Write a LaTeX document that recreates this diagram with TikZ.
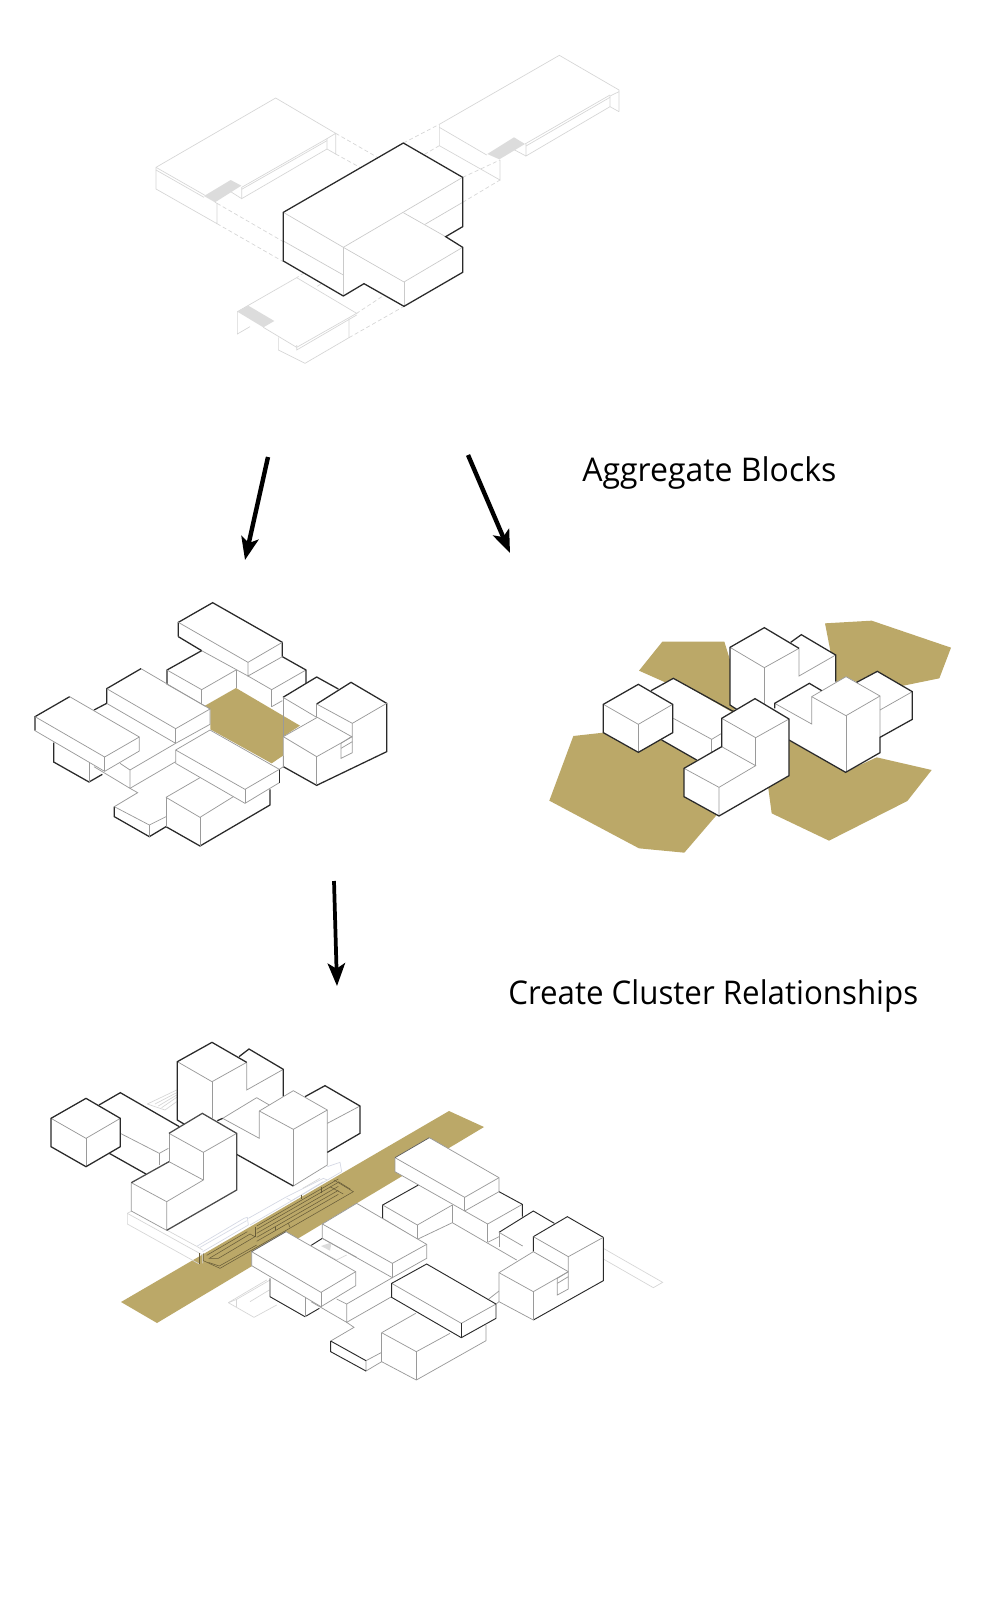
\documentclass[tikz,border=0pt]{standalone}
\usepackage{fontspec}
\setmainfont{Open Sans}
\usetikzlibrary{arrows.meta}
\definecolor{gold}{HTML}{BBA868}
\definecolor{ink}{HTML}{2A2A2A}
\definecolor{thin}{HTML}{9A9A9A}
\definecolor{ghost}{HTML}{D6D6D6}
\definecolor{ghostblue}{HTML}{D4D8E4}
\definecolor{stair}{HTML}{DCDCDC}
\tikzset{
  blk/.style={draw=ink,line width=.95pt,line join=miter},
  thn/.style={draw=thin,line width=.55pt,line join=miter},
  lgt/.style={draw=ghost!80!thin,line width=.5pt},
  mid/.style={draw=ink!75,line width=.55pt},
  gho/.style={draw=ghost,line width=.5pt,line join=miter},
  gbl/.style={draw=ghostblue,line width=.5pt},
  dsh/.style={draw=ghost,line width=.5pt,densely dashed},
  band/.style={draw=black!45!gold,line width=.4pt},
  wf/.style={fill=white,draw=none},
  bigarrow/.style={draw=black,line width=3.3pt,-{Stealth[length=17pt,width=13pt,inset=4pt]}},
  lab/.style={font=\fontsize{24.5}{28}\selectfont,text=black,inner sep=0pt,anchor=base west},
  zoomframe/.style={x=.25pt,y=-.25pt}
}
\begin{document}
\begin{tikzpicture}[x=.75pt,y=-.75pt]
\useasboundingbox (0,0) rectangle (991,1598);
\fill[white] (0,0) rectangle (991,1598);
%% ---------- Panel 1 ----------
\begin{scope}[shift={(140,40)},zoomframe]
 % left ghost building
 \draw[gho] (48,382)--(407,174)--(587,280)--(587,342)--(561,327)--(561,296)--(587,280);
 \draw[gho] (561,296)--(305,442)--(305,476)--(561,327);
 \draw[gho] (561,302)--(305,448);
 \draw[gho] (48,382)--(48,447)--(231,551)--(231,490)--(225,487);
 \draw[gho] (48,382)--(195,466);\draw[gho] (48,390)--(192,472);
 \draw[gho] (272,455)--(305,476);
 \fill[stair] (192,468)--(272,420)--(304,437)--(225,487)--cycle;
 % right ghost building
 \draw[gho] (898,253)--(1258,46)--(1437,150)--(1437,215);
 \draw[gho] (1437,155)--(1410,168)--(1410,200)--(1437,215);
 \draw[gho] (898,253)--(898,317)--(1080,420)--(1080,360);
 \draw[gho] (898,262)--(1040,345);
 \draw[gho] (1155,312)--(1410,165);\draw[gho] (1158,318)--(1410,172);
 \draw[gho] (1158,312)--(1158,348)--(1410,200);
 \draw[gho] (1122,329)--(1158,348);
 \fill[stair] (1042,342)--(1122,292)--(1155,312)--(1078,358)--cycle;
 % bottom ghost building
 \draw[gho] (292,815)--(470,713)--(650,820)--(470,922)--(370,862);
 \draw[gho] (292,815)--(292,882)--(330,860);
 \draw[gho] (415,892)--(415,930)--(495,970)--(627,893)--(627,835);
 \draw[gho] (470,915)--(470,930)--(650,825);
 \fill[stair] (325,797)--(403,843)--(370,862)--(292,815)--cycle;
 % dashed projection lines
 \draw[dsh] (587,280)--(735,365);
 \draw[dsh] (587,342)--(665,385);
 \draw[dsh] (231,490)--(430,605);
 \draw[dsh] (231,551)--(430,665);
 \draw[dsh] (790,309)--(898,253);
 \draw[dsh] (898,317)--(790,380);
 \draw[dsh] (968,412)--(1080,360);
 \draw[dsh] (968,487)--(1080,420);
 \draw[dsh] (610,622)--(470,713);
 \draw[dsh] (610,690)--(530,740);
 \draw[dsh] (792,726)--(650,820);
 \draw[dsh] (627,893)--(792,799);
 % central block
 \path[wf] (430,517)--(790,309)--(968,412)--(968,560)--(917,590)--(968,622)--(968,697)--(792,799)--(672,731)--(610,768)--(430,663)--cycle;
 \draw[lgt] (430,517)--(610,622)--(792,726)--(968,622);
 \draw[lgt] (610,622)--(968,412);
 \draw[lgt] (790,518)--(917,590);
 \draw[lgt] (430,603)--(610,705);
 \draw[lgt] (610,622)--(610,768);
 \draw[lgt] (792,726)--(792,799);
 \draw[lgt] (855,553)--(968,487);
 \draw[blk] (430,517)--(790,309)--(968,412)--(968,560)--(917,590)--(968,622)--(968,697)--(792,799)--(672,731)--(610,768)--(430,663)--cycle;
\end{scope}
%% ---------- Arrows ----------
\coordinate (a1s) at (268,457);\coordinate (a1e) at (245,560);
\coordinate (a2s) at (468,455);\coordinate (a2e) at (510,553);
\coordinate (a3s) at (334,881);\coordinate (a3e) at (337,986);
\draw[bigarrow] (a1s)--(a1e);
\draw[bigarrow] (a2s)--(a2e);
\draw[bigarrow,line width=2.8pt] (a3s)--(a3e);
\node[lab] (t1) at (582,481) {\scalebox{0.98}[1]{Aggregate Blocks}};
\node[lab] (t2) at (508,1004) {\scalebox{0.957}[1]{Create Cluster Relationships}};
%% ---------- Panel 2 ----------
\begin{scope}[shift={(20,590)},zoomframe]
 \fill[gold] (555,347)--(648,294)--(840,407)--(789,440)--(789,497)--(755,520)--(571,418)--(571,358)--cycle;
 % back row
 \draw[blk] (545,182)--(441,240)--(441,283);
 \draw[thn] (441,240)--(545,299)--(648,240);
 \draw[thn] (545,299)--(545,342);
 \draw[thn] (441,283)--(555,348);
 \draw[thn] (648,240)--(648,295);
 \draw[thn] (684,258)--(755,299)--(858,240);
 \draw[thn] (755,299)--(755,350);
 \draw[thn] (755,350)--(787,332);
 \draw[blk] (787,200)--(858,240)--(858,280);
 % top slab
 \draw[blk] (475,140)--(475,97)--(578,38)--(787,157)--(787,200);
 \draw[blk] (475,140)--(545,182);
 \draw[thn] (475,97)--(684,217)--(787,157);
 \draw[thn] (684,217)--(684,258)--(787,200);
 \draw[thn] (545,182)--(684,258);
 % right block
 \draw[thn] (789,322)--(789,440);
 \draw[blk] (789,322)--(890,261)--(955,297);
 \draw[thn] (789,322)--(890,382);
 \draw[thn] (890,342)--(890,382);
 \draw[blk] (890,342)--(993,277)--(1100,340)--(1100,485)--(890,586)--(790,530);
 \draw[thn] (790,530)--(790,440)--(892,382)--(995,440);
 \draw[thn] (890,342)--(997,400)--(1100,340);
 \draw[thn] (997,400)--(997,488)--(963,505)--(963,460)--(997,438);
 \draw[thn] (963,475)--(997,455);
 \draw[thn] (790,440)--(890,500)--(997,440);
 \draw[thn] (890,500)--(890,586);
 \draw[thn] (790,497)--(790,530);
 % centre slab
 \draw[thn] (363,236)--(570,357)--(570,403)--(467,460);
 \draw[blk] (260,340)--(260,296)--(363,236);
 \draw[thn] (260,296)--(467,416)--(570,357);
 \draw[thn] (467,416)--(467,460);
 \draw[thn] (260,340)--(467,460);
 \draw[blk] (222,360)--(260,340);
 % left slab
 \draw[blk] (45,422)--(45,380)--(149,320);
 \draw[thn] (149,320)--(358,441)--(358,483)--(254,544)--(45,422);
 \draw[thn] (45,380)--(254,501)--(358,441);
 \draw[thn] (254,501)--(254,544);
 \draw[blk] (101,458)--(101,516)--(207,576)--(247,553);
 \draw[thn] (207,520)--(207,576);
 % mid
 \draw[thn] (222,530)--(330,595)--(330,540)--(300,520);
 \draw[thn] (330,540)--(467,460);
 \draw[thn] (330,595)--(467,515);
 \draw[thn] (330,595)--(353,608)--(283,650);
 % front low
 \draw[blk] (283,650)--(283,680)--(388,740)--(438,710)--(540,768)--(750,645)--(750,598);
 \draw[thn] (283,650)--(388,705)--(438,680);
 \draw[thn] (388,705)--(388,740);
 \draw[thn] (438,622)--(540,563);
 \draw[thn] (438,622)--(540,682)--(640,620);
 \draw[thn] (438,622)--(438,710);
 \draw[thn] (540,682)--(540,768);
 % front slab
 \draw[thn] (467,480)--(570,420)--(778,538);
 \draw[thn] (467,480)--(467,520)--(675,640)--(778,578);
 \draw[blk] (778,538)--(778,578);
 \draw[thn] (467,480)--(675,598)--(778,538);
 \draw[thn] (675,598)--(675,640);
 \draw[thn] (778,538)--(790,530);
\end{scope}
%% ---------- Panel 3 ----------
\begin{scope}[shift={(540,600)},zoomframe]
 \fill[gold] (297,212)--(367,125)--(553,125)--(570,180)--(585,340)--cycle;
 \fill[gold] (855,70)--(995,62)--(1233,143)--(1198,235)--(1090,257)--(890,250)--cycle;
 \fill[gold] (100,408)--(190,398)--(295,440)--(365,415)--(470,475)--(530,645)--(433,758)--(297,745)--(28,602)--cycle;
 \fill[gold] (745,420)--(917,515)--(1010,472)--(1175,510)--(1102,603)--(867,722)--(695,640)--(685,565)--cycle;
 % back long block
 \path[wf] (333,272)--(400,235)--(590,345)--(470,480)--(365,420)--cycle;
 \draw[blk] (333,272)--(400,235)--(590,340);
 \draw[blk] (365,420)--(470,480);
 \draw[thn] (400,355)--(515,418)--(545,400);
 \draw[thn] (515,418)--(515,460);
 % cube
 \path[wf] (190,313)--(295,253)--(398,313)--(398,398)--(295,457)--(190,398)--cycle;
 \draw[thn] (190,313)--(295,373)--(398,313);
 \draw[thn] (295,373)--(295,457);
 \draw[blk] (190,313)--(295,253)--(398,313)--(398,398)--(295,457)--(190,398)--cycle;
 % back L
 \path[wf] (570,142)--(673,83)--(752,127)--(784,104)--(887,165)--(887,245)--(704,310)--(590,328)--(570,315)--cycle;
 \draw[thn] (570,142)--(673,203)--(777,145);
 \draw[thn] (673,203)--(673,315);
 \draw[thn] (777,145)--(777,228)--(887,165);
 \draw[blk] (590,328)--(570,315)--(570,142)--(673,83)--(777,145);
 \draw[blk] (752,127)--(784,104)--(887,165)--(887,245);
 % right block
 \path[wf] (704,310)--(808,250)--(845,272)--(918,230)--(950,247)--(1012,214)--(1117,275)--(1117,358)--(1020,412)--(1020,458)--(917,517)--(747,420)--(704,325)--cycle;
 \draw[thn] (704,310)--(815,372)--(815,290);
 \draw[thn] (815,290)--(918,347)--(1020,288);
 \draw[thn] (918,347)--(918,517);
 \draw[thn] (918,230)--(1020,288)--(1020,412);
 \draw[thn] (1020,330)--(1117,275);
 \draw[thn] (815,290)--(918,230);
 \draw[blk] (704,325)--(704,310)--(808,250)--(845,272);
 \draw[blk] (950,247)--(1012,214)--(1117,275)--(1117,358)--(1020,412)--(1020,458)--(917,517)--(747,420);
 % front L
 \path[wf] (545,355)--(645,296)--(747,357)--(747,527)--(537,648)--(432,590)--(432,505)--(545,440)--cycle;
 \draw[thn] (545,355)--(647,413)--(747,357);
 \draw[thn] (647,413)--(647,497);
 \draw[thn] (545,440)--(647,497)--(537,562);
 \draw[thn] (432,505)--(537,562)--(537,648);
 \draw[blk] (545,355)--(645,296)--(747,357)--(747,527)--(537,648)--(432,590)--(432,505)--(545,440)--cycle;
\end{scope}
%% ---------- Panel 4: gold band ----------
\fill[gold] (121,1302)--(449,1111)--(484,1127)--(157,1323)--cycle;
%% floor ghosts and band lines
\begin{scope}[shift={(110,1130)},zoomframe]
 \draw[gho] (65,243)--(52,250)--(52,282)--(268,402);
 \draw[gho] (52,250)--(278,375)--(278,400);
 \draw[gho] (170,300)--(262,350)--(278,360);
 \draw[gbl] (262,348)--(402,265)--(412,262)--(415,285)--(278,365);
 \draw[gbl] (270,352)--(410,272);
 \draw[gbl] (415,265)--(530,200);
 \draw[gbl] (530,200)--(640,145)--(652,150);
 \draw[gbl] (420,285)--(695,125)--(690,97)--(652,110);
 \draw[gbl] (530,205)--(545,212)--(640,155);
 \draw[gho] (578,175)--(630,145);
 \draw[band] (268,370)--(268,402);
 \draw[band] (280,370)--(280,392)--(330,415)--(730,185)--(672,150);
 \draw[band] (298,385)--(420,312)--(435,320)--(325,385)--cycle;
 \draw[band] (290,376)--(412,305);
 \draw[band] (295,397)--(328,408)--(440,345);
 \foreach \yy in {288,298,310,322,334} {\draw[band] (440,\yy)--++(245,-141);}
 \draw[band] (685,155)--(722,178);
 \draw[band] (660,170)--(700,192);
 \draw[band] (435,290)--(435,320);
 \draw[band] (535,280)--(540,292);
 \draw[band] (575,195)--(575,208);
 \draw[band] (635,170)--(635,188);
 \draw[band] (495,290)--(495,300);
 % ghost ramp under slab
 \draw[gho] (355,518)--(470,450);
 \draw[gho] (355,518)--(380,508)--(480,450);
 \draw[gho] (355,518)--(432,562)--(500,525);
 \draw[gho] (380,508)--(380,530);
 \draw[gho] (420,515)--(478,480);
\end{scope}
%% left cluster
\begin{scope}[shift={(40,1030)},zoomframe]
 \draw[gho] (322,222)--(410,180);
 \draw[gho] (322,222)--(375,240)--(410,215);
 \draw[gho] (345,222)--(410,188);\draw[gho] (355,228)--(410,195);\draw[gho] (365,233)--(410,202);
 % long
 \draw[blk] (177,225)--(241,188)--(418,290);
 \draw[thn] (241,310)--(358,370)--(385,355);
 \draw[thn] (358,370)--(358,405);
 \draw[blk] (208,370)--(318,432);
 % cube
 \path[wf] (33,265)--(138,205)--(241,265)--(241,350)--(138,410)--(33,350)--cycle;
 \draw[thn] (33,265)--(138,325)--(241,265);
 \draw[thn] (138,325)--(138,410);
 \draw[blk] (33,265)--(138,205)--(241,265)--(241,350)--(138,410)--(33,350)--cycle;
 % back L
 \draw[thn] (412,95)--(516,155)--(620,97);
 \draw[thn] (516,155)--(516,265);
 \draw[thn] (620,97)--(620,180)--(730,118);
 \draw[blk] (432,282)--(412,270)--(412,95)--(516,37)--(620,97);
 \draw[blk] (597,80)--(627,57)--(730,118)--(730,200);
 % right block
 \path[wf] (548,265)--(650,203)--(688,225)--(760,182)--(795,200)--(855,167)--(960,228)--(960,310)--(862,367)--(862,405)--(760,468)--(590,373)--(530,270)--cycle;
 \draw[thn] (548,265)--(658,325)--(658,243);
 \draw[thn] (548,265)--(650,203)--(688,225);
 \draw[thn] (658,243)--(760,298)--(862,240);
 \draw[thn] (658,243)--(760,182)--(862,240)--(862,405)--(760,468);
 \draw[thn] (760,298)--(760,468);
 \draw[thn] (862,280)--(960,228);
 \draw[blk] (795,200)--(855,167)--(960,228)--(960,310)--(862,367);
 \draw[blk] (590,373)--(760,468);
 \draw[blk] (532,272)--(548,265);
 % front L
 \path[wf] (387,310)--(487,250)--(590,310)--(590,480)--(380,601)--(274,543)--(274,458)--(387,395)--cycle;
 \draw[thn] (387,395)--(387,310);
 \draw[thn] (387,310)--(490,367)--(590,310);
 \draw[thn] (490,367)--(490,450);
 \draw[thn] (387,395)--(490,450)--(380,515);
 \draw[thn] (274,458)--(380,515)--(380,601);
 \draw[thn] (274,458)--(274,543)--(380,601);
 \draw[blk,draw=ink!85] (387,310)--(487,250)--(590,310)--(590,480)--(380,601);
 \draw[blk,draw=ink!85] (274,458)--(387,395);
\end{scope}
%% right cluster
\begin{scope}[shift={(240,1120)},zoomframe]
 % ghost strip
 \draw[gho] (1090,385)--(1268,487)--(1240,503)--(1090,417);
 % slab A
 \path[wf] (465,113)--(568,53)--(777,173)--(777,215)--(674,273)--(465,155)--cycle;
 \draw[thn] (465,113)--(674,232)--(777,173);
 \draw[thn] (674,232)--(674,273);
 \draw[thn] (465,113)--(465,155)--(674,273)--(777,215)--(777,173)--(568,53);
 \draw[mid] (465,113)--(568,53);
 % behind A
 \draw[blk,line width=.7pt] (535,195)--(428,255)--(428,295);
 \draw[thn] (428,255)--(532,315)--(637,255);
 \draw[thn] (532,315)--(532,358);
 \draw[thn] (428,295)--(532,358);
 \draw[thn] (637,255)--(637,308);
 \draw[thn] (674,273)--(743,312)--(847,253);
 \draw[blk,line width=.7pt] (777,215)--(847,253)--(847,290);
 \draw[thn] (743,312)--(743,367);
 \draw[thn] (743,367)--(777,350);
 \draw[thn] (532,358)--(637,308)--(830,420);
 % right block
 \draw[thn] (777,337)--(777,380);
 \draw[blk,line width=.7pt] (777,337)--(880,273)--(943,310);
 \draw[thn] (777,337)--(848,378);
 \draw[blk,line width=.7pt] (880,395)--(880,350)--(982,290)--(1090,352)--(1090,482)--(880,600);
 \draw[thn] (880,350)--(985,410)--(1090,352);
 \draw[thn] (985,410)--(985,507)--(952,525)--(952,475)--(985,455);
 \draw[thn] (952,490)--(985,470);
 \draw[thn] (880,395)--(985,455);
 \draw[thn] (880,395)--(777,458)--(777,545)--(880,600);
 \draw[thn] (777,458)--(880,515)--(985,455);
 \draw[thn] (880,515)--(880,600);
 \draw[thn] (745,538)--(777,513);
 % slab B
 \path[wf] (247,312)--(350,250)--(560,373)--(560,415)--(457,473)--(247,355)--cycle;
 \draw[thn] (247,312)--(457,430)--(560,373);
 \draw[thn] (457,430)--(457,473);
 \draw[thn] (247,312)--(247,355)--(457,473)--(560,415)--(560,373)--(350,250)--cycle;
 % stair patch
 \draw[blk,line width=.7pt] (212,377)--(247,355);
 \fill[stair] (243,378)--(275,367)--(270,392)--cycle;
 \draw[gho] (212,377)--(290,420)--(320,405);
 \draw[thn] (247,355)--(350,412);
 % slab C
 \path[wf] (35,395)--(138,335)--(347,455)--(347,497)--(243,560)--(35,437)--cycle;
 \draw[thn] (35,395)--(243,517)--(347,455);
 \draw[thn] (243,517)--(243,560);
 \draw[thn] (35,395)--(35,437)--(243,560)--(347,497)--(347,455)--(138,335);
 \draw[mid] (35,395)--(138,335);
 \draw[blk,line width=.7pt] (90,475)--(90,530)--(195,590)--(238,565);
 \draw[thn] (195,530)--(195,590);
 % middle ground
 \draw[thn] (213,545)--(320,607)--(320,552)--(290,537);
 \draw[thn] (320,552)--(457,473);
 \draw[thn] (320,607)--(455,530);
 \draw[thn] (320,607)--(342,622)--(272,663);
 % front low
 \draw[thn] (425,725)--(529,780)--(738,662)--(738,615);
 \draw[thn] (425,638)--(527,580);
 \draw[thn] (425,638)--(529,695)--(630,640);
 \draw[thn] (425,638)--(425,725);
 \draw[thn] (529,695)--(529,780);
 \draw[thn] (378,722)--(425,697);
 \draw[thn] (378,722)--(378,753)--(425,725);
 \draw[blk,line width=.7pt] (272,663)--(378,722);
 \draw[blk,line width=.7pt] (272,663)--(272,695)--(378,753);
 % slab D
 \path[wf] (455,490)--(560,432)--(768,552)--(768,595)--(664,653)--(455,532)--cycle;
 \draw[thn] (664,610)--(768,552);
 \draw[thn] (455,490)--(664,610);
 \draw[blk,line width=.7pt] (664,610)--(664,653);
 \draw[blk,line width=.7pt] (455,490)--(560,432)--(768,552)--(768,595)--(664,653)--(455,532)--cycle;
 \draw[thn] (768,552)--(777,545);
\end{scope}
\end{tikzpicture}
\end{document}
